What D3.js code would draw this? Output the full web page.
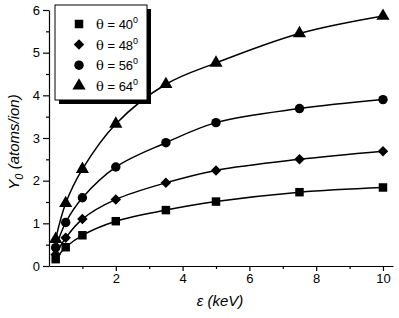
<!DOCTYPE html>
<html>
<head>
<meta charset="utf-8">
<script src="https://cdn.jsdelivr.net/npm/d3@7"></script>
<style>
  body { margin: 0; background: #fff; }
  svg { display: block; font-family: "Liberation Sans", Arial, sans-serif; }
</style>
</head>
<body>
<div id="chart"></div>
<script>
const energies = [0.2, 0.5, 1, 2, 3.5, 5, 7.5, 10];
const theta40 = [0.16, 0.44, 0.72, 1.05, 1.31, 1.51, 1.73, 1.84];
const theta48 = [0.27, 0.66, 1.10, 1.56, 1.95, 2.24, 2.50, 2.69];
const theta56 = [0.43, 1.02, 1.60, 2.32, 2.89, 3.36, 3.69, 3.90];
const theta64 = [0.63, 1.47, 2.27, 3.33, 4.26, 4.76, 5.45, 5.86];
const angles = ["40", "48", "56", "64"];
const xTicks = [2, 4, 6, 8, 10];
const yTicks = [0, 1, 2, 3, 4, 5, 6];

// diamond = square turned 45 degrees
const series = [theta40, theta48, theta56, theta64].map((vals, i) => ({
  angle: angles[i],
  symbol: [d3.symbolSquare, d3.symbolSquare, d3.symbolCircle, d3.symbolTriangle][i],
  size: [72, 55, 70, 75][i],
  rot: i === 1 ? 45 : 0,
  points: vals.map((v, j) => [energies[j], v])
}));

const W = 399, H = 318;
const margin = { top: 10, right: 6, bottom: 52, left: 49 };
const width = W - margin.left - margin.right;
const height = H - margin.top - margin.bottom;

const svg = d3.select("#chart").append("svg")
  .attr("width", W)
  .attr("height", H);

const g = svg.append("g")
  .attr("transform", `translate(${margin.left},${margin.top})`);

const x = d3.scaleLinear().domain([0, 10.3]).range([0, width]);
const y = d3.scaleLinear().domain([0, 6]).range([height, 0]);

// minor ticks
g.append("g")
  .attr("transform", `translate(0,${height})`)
  .call(d3.axisBottom(x).tickValues([1, 3, 5, 7, 9]).tickSize(3).tickFormat(""))
  .call(a => a.select(".domain").remove());
g.append("g")
  .call(d3.axisLeft(y).tickValues(d3.range(0.5, 6, 1)).tickSize(3).tickFormat(""))
  .call(a => a.select(".domain").remove());

const xAxis = g.append("g")
  .attr("transform", `translate(0,${height})`)
  .call(d3.axisBottom(x).tickValues(xTicks).tickFormat(d3.format("d"))
    .tickSize(5).tickSizeOuter(0).tickPadding(3));
xAxis.selectAll("text").attr("font-size", 13).attr("fill", "#000");

const yAxis = g.append("g")
  .call(d3.axisLeft(y).tickValues(yTicks).tickFormat(d3.format("d"))
    .tickSize(6).tickSizeOuter(0).tickPadding(3));
yAxis.selectAll("text").attr("font-size", 13).attr("fill", "#000");

g.selectAll(".domain, .tick line").attr("stroke", "#000").attr("stroke-width", 1.2);

// axis titles
svg.append("text")
  .attr("x", 220)
  .attr("y", 306)
  .attr("text-anchor", "middle")
  .attr("font-size", 15)
  .attr("font-style", "italic")
  .text("ε (keV)");

const yl = svg.append("text")
  .attr("transform", "translate(19,142) rotate(-90)")
  .attr("text-anchor", "middle")
  .attr("font-size", 15)
  .attr("font-style", "italic");
yl.append("tspan").text("Y");
yl.append("tspan").attr("font-size", 11).attr("dy", 4).text("0");
yl.append("tspan").attr("dy", -4).text(" (atoms/ion)");

// curves and markers
const line = d3.line()
  .x(d => x(d[0]))
  .y(d => y(d[1]))
  .curve(d3.curveCatmullRom.alpha(0.5));

series.forEach(s => {
  g.append("path")
    .datum(s.points)
    .attr("fill", "none")
    .attr("stroke", "#000")
    .attr("stroke-width", 1.5)
    .attr("d", line);

  g.selectAll(null)
    .data(s.points)
    .enter()
    .append("path")
    .attr("transform", d => `translate(${x(d[0])},${y(d[1])}) rotate(${s.rot})`)
    .attr("d", d3.symbol().type(s.symbol).size(s.size))
    .attr("fill", "#000");
});

// legend
const lg = svg.append("g").attr("transform", "translate(55,5)");
lg.append("rect")
  .attr("x", 4).attr("y", 4)
  .attr("width", 92).attr("height", 95)
  .attr("fill", "#000");
lg.append("rect")
  .attr("width", 92).attr("height", 95)
  .attr("fill", "#fff")
  .attr("stroke", "#000")
  .attr("stroke-width", 1);

series.forEach((s, i) => {
  const row = lg.append("g").attr("transform", `translate(0,${19 + i * 20.6})`);
  row.append("path")
    .attr("transform", `translate(24,0) rotate(${s.rot})`)
    .attr("d", d3.symbol().type(s.symbol).size(s.size))
    .attr("fill", "#000");
  const t = row.append("text")
    .attr("x", 41)
    .attr("y", 5)
    .attr("font-size", 13)
    .attr("font-family", "'DejaVu Serif', serif");
  t.append("tspan").text("θ");
  t.append("tspan").attr("font-family", "'Liberation Sans', Arial, sans-serif").text(" = " + s.angle);
  t.append("tspan")
    .attr("font-family", "'Liberation Sans', Arial, sans-serif")
    .attr("font-size", 9).attr("dy", -6).text("0");
});
</script>
</body>
</html>
